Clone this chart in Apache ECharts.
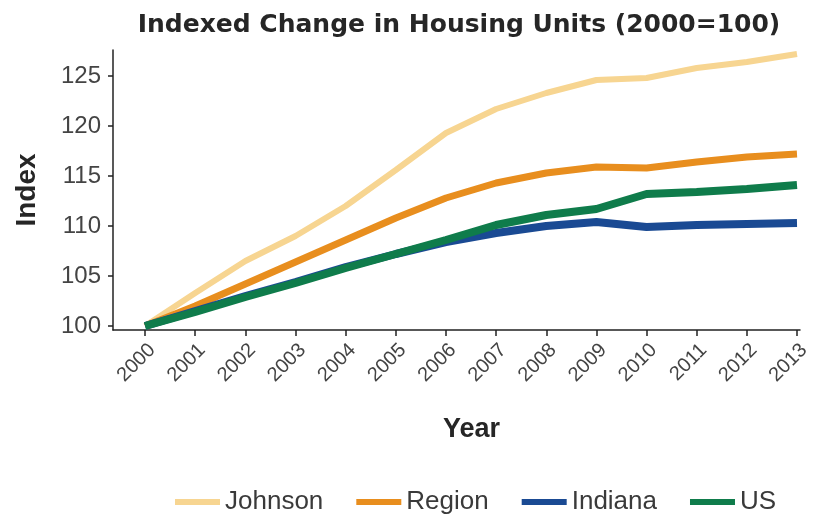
<!DOCTYPE html>
<html lang="en">
  <head>
    <meta charset="UTF-8" />
    <title>Indexed Change in Housing Units</title>
    <script src="https://cdn.jsdelivr.net/npm/echarts@6/dist/echarts.min.js"></script>
    <style>
      body { margin: 0; background: #fff; }
    </style>
  </head>
  <body>
    <div id="main" style="width: 815px; height: 516px;"></div>
    <script type="text/javascript">
      var years = [2000, 2001, 2002, 2003, 2004, 2005, 2006, 2007, 2008, 2009, 2010, 2011, 2012, 2013]
      var johnson = [100, 103.3, 106.5, 109, 112, 115.6, 119.3, 121.7, 123.3, 124.6, 124.8, 125.8, 126.4, 127.2]
      var region = [100, 102, 104.2, 106.4, 108.6, 110.8, 112.8, 114.3, 115.3, 115.9, 115.8, 116.4, 116.9, 117.2]
      var indiana = [100, 101.5, 103, 104.4, 105.9, 107.2, 108.4, 109.3, 110, 110.4, 109.9, 110.1, 110.2, 110.3]
      var us = [100, 101.4, 102.9, 104.3, 105.8, 107.2, 108.6, 110.1, 111.1, 111.7, 113.2, 113.4, 113.7, 114.1]
      var yTicks = [100, 105, 110, 115, 120, 125]

      var myChart = echarts.init(document.getElementById('main'))

      // [year, value] pairs for the value-type x axis
      function pairs(arr) {
        return arr.map(function (v, i) { return [years[i], v] })
      }

      var font = 'Liberation Sans, Arial, sans-serif'

      var option = {
        animation: false,
        title: {
          text: 'Indexed Change in Housing Units (2000=100)',
          left: 454,
          textAlign: 'center',
          top: 8,
          textStyle: { fontFamily: 'DejaVu Sans', fontSize: 25, fontWeight: 'bold', color: '#262626' }
        },
        legend: {
          top: 484,
          left: 170,
          itemWidth: 45,
          itemHeight: 6,
          itemGap: 33,
          icon: 'rect',
          textStyle: { fontFamily: font, fontSize: 26, color: '#3a3a3a' },
          data: ['Johnson', 'Region', 'Indiana', 'US']
        },
        grid: { left: 113, right: 15, top: 50, bottom: 186, containLabel: false },
        xAxis: {
          type: 'value',
          min: 1999.36,
          max: 2013.06,
          name: 'Year',
          nameLocation: 'middle',
          nameGap: 86,
          nameTextStyle: { fontFamily: font, fontSize: 27, fontWeight: 'bold', color: '#262626', padding: [0, 0, 0, 30] },
          axisLine: { lineStyle: { color: '#222', width: 1.5 } },
          axisTick: { show: true, length: 6, customValues: years, lineStyle: { color: '#222', width: 1.5 } },
          axisLabel: {
            customValues: years,
            rotate: 45,
            fontFamily: font,
            fontSize: 20,
            color: '#444',
            margin: 10,
            verticalAlign: 'top',
            formatter: function (v) { return String(v) }
          },
          splitLine: { show: false }
        },
        yAxis: {
          type: 'value',
          min: 99.6,
          max: 127.6,
          name: 'Index',
          nameLocation: 'middle',
          nameGap: 72,
          nameTextStyle: { fontFamily: font, fontSize: 28, fontWeight: 'bold', color: '#262626' },
          axisLine: { show: true, lineStyle: { color: '#222', width: 1.5 } },
          axisTick: { show: true, length: 5, customValues: yTicks, lineStyle: { color: '#222', width: 1.5 } },
          axisLabel: { customValues: yTicks, fontFamily: font, fontSize: 24, color: '#444', margin: 12 },
          splitLine: { show: false }
        },
        series: [
          { name: 'Johnson', type: 'line', data: pairs(johnson), symbol: 'none', color: '#F7D591', lineStyle: { width: 6 } },
          { name: 'Region', type: 'line', data: pairs(region), symbol: 'none', color: '#E88E1E', lineStyle: { width: 7 } },
          { name: 'Indiana', type: 'line', data: pairs(indiana), symbol: 'none', color: '#1A4A93', lineStyle: { width: 8 } },
          { name: 'US', type: 'line', data: pairs(us), symbol: 'none', color: '#0F7C4B', lineStyle: { width: 8 } }
        ]
      }

      myChart.setOption(option)
    </script>
  </body>
</html>
